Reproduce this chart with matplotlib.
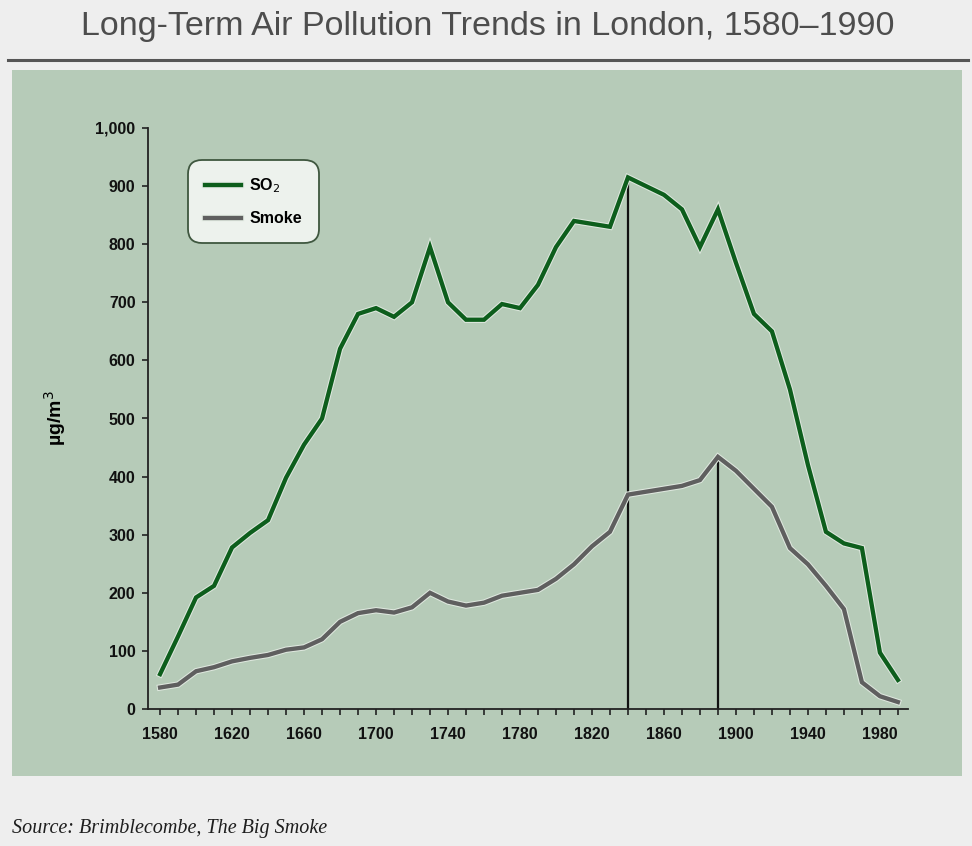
import matplotlib
matplotlib.use("Agg")
import matplotlib.pyplot as plt
from matplotlib import font_manager
from matplotlib.patches import Rectangle
import matplotlib.patheffects as pe

years = list(range(1580, 2000, 10))
so2 = [60, 125, 192, 212, 278, 303, 325, 398, 455, 500,
       620, 680, 690, 675, 700, 795, 700, 670, 670, 697,
       690, 730, 795, 840, 835, 830, 915, 900, 885, 860,
       795, 860, 768, 680, 650, 550, 420, 305, 285, 277,
       97, 50]
smoke = [37, 42, 65, 72, 82, 88, 93, 102, 106, 120,
         150, 165, 170, 166, 175, 200, 185, 178, 183, 195,
         200, 205, 224, 249, 280, 305, 369, 374, 379, 384,
         394, 434, 410, 379, 348, 277, 249, 212, 172, 46,
         22, 12]
series_names = ["SO$_2$", "Smoke"]
peak_years = [1840, 1890]
x_labels = list(range(1580, 2000, 40))
y_ticks = list(range(0, 1001, 100))

names = {f.name for f in font_manager.fontManager.ttflist}
narrow = "Liberation Sans Narrow" if "Liberation Sans Narrow" in names else "Liberation Sans"

W, H = 972, 846
fig = plt.figure(figsize=(W / 100, H / 100), dpi=100)
fig.patch.set_facecolor("#eeeeee")

# green panel
fig.patches.append(Rectangle((12 / W, 1 - 776 / H), 950 / W, 706 / H,
                             transform=fig.transFigure, facecolor="#b6cbb8",
                             edgecolor="none", zorder=-5))
# rule under title
fig.add_artist(plt.Line2D([8 / W, 968 / W], [1 - 60 / H, 1 - 60 / H],
                          transform=fig.transFigure, color="#555555", lw=2.2))

fig.text(488 / W, 1 - 27 / H, "Long-Term Air Pollution Trends in London, 1580\u20131990",
         ha="center", va="center", fontsize=24.5, color="#4d4d4d", family=narrow)

fig.text(12 / W, 1 - 828 / H, "Source: Brimblecombe, The Big Smoke",
         ha="left", va="center", fontsize=14.5, style="italic",
         family="Liberation Serif", color="#1e1e1e")

ax = fig.add_axes([148 / W, 1 - 709 / H, 760 / W, 581 / H])
ax.set_facecolor("none")
ax.set_zorder(2)

halo = [pe.withStroke(linewidth=4.6, foreground="#dfe8df")]
ax.plot(years, so2, color="#0d5e1c", lw=3.1, label=series_names[0],
        path_effects=halo, solid_joinstyle="miter", zorder=3)
ax.plot(years, smoke, color="#5f5f5f", lw=3.1, label=series_names[1],
        path_effects=halo, solid_joinstyle="miter", zorder=3)

for py in peak_years:
    i = years.index(py)
    top = so2[i] if py == 1840 else smoke[i]
    ax.plot([py, py], [0, top], color="#111111", lw=1.6, zorder=2)

ax.set_xlim(1573.3, 1995.6)
ax.set_ylim(0, 1000)
ax.set_xticks(list(range(1580, 2000, 10)))
ax.set_xticklabels([str(y) if y in x_labels else "" for y in range(1580, 2000, 10)])
ax.set_yticks(y_ticks)
ax.set_yticklabels([f"{v:,}" for v in y_ticks])
for s in ["top", "right"]:
    ax.spines[s].set_visible(False)
for s in ["left", "bottom"]:
    ax.spines[s].set_color("#222222")
    ax.spines[s].set_linewidth(1.3)
ax.tick_params(axis="both", direction="out", length=4, width=1.2, color="#222222",
               labelsize=11.5, labelcolor="#111111", pad=5)
ax.tick_params(axis="x", pad=9)
for lab in ax.get_xticklabels() + ax.get_yticklabels():
    lab.set_fontfamily(narrow)
    lab.set_fontweight("bold")

ax.set_ylabel("\u00b5g/m$^3$", fontsize=14, fontweight="bold",
              family="Liberation Sans")
ax.yaxis.set_label_coords(-0.105, 0.5)

leg = ax.legend(loc="upper left", bbox_to_anchor=(0.0526, 0.945), frameon=True,
                fancybox=True, handlelength=2.3, borderpad=1.05, labelspacing=1.0,
                borderaxespad=0, handletextpad=0.5,
                prop={"family": narrow, "weight": "bold", "size": 11.5})
leg.get_frame().set_facecolor("#edf2ed")
leg.get_frame().set_edgecolor("#3f573f")
leg.get_frame().set_linewidth(1.3)
leg.get_frame().set_alpha(1)
leg.get_frame().set_boxstyle("round,pad=0,rounding_size=0.9")

fig.savefig("out.png", dpi=100, facecolor=fig.get_facecolor())
